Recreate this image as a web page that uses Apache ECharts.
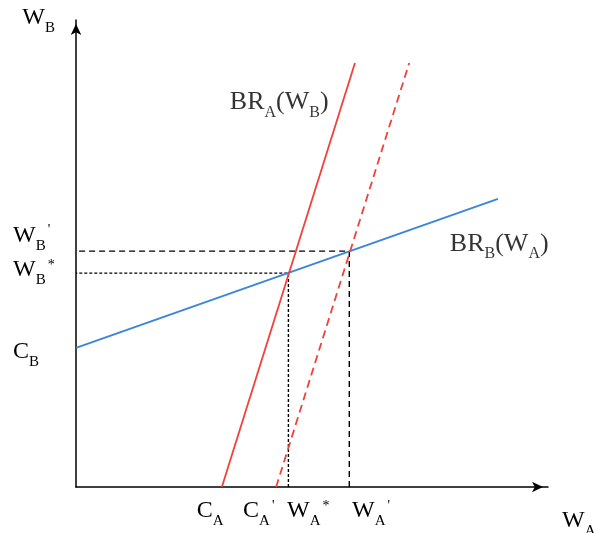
<!DOCTYPE html>
<html><head><meta charset="utf-8">
<script src="https://cdn.jsdelivr.net/npm/echarts@6/dist/echarts.min.js"></script>
<style>html,body{margin:0;padding:0;background:#fff}#c{width:594px;height:533px}</style>
</head><body><div id="c"></div>
<script>
// data units: 0..100 on each axis
const brB_line = [[0, 29.8], [89.4, 61.7]];     // BR_B(W_A) blue
const brA_line = [[30.9, 0], [59.1, 90.8]];     // BR_A(W_B) red solid
const brA_shift = [[42.4, 0], [70.6, 90.8]];    // shifted BR_A red dashed
const eqStar = [45.0, 45.8];                    // (W_A*, W_B*)
const eqPrime = [57.9, 50.5];                   // (W_A', W_B')
const xTickPos = [25.6, 35.4, 44.7, 58.5];
const xTickLabels = ["{m|C}{s|A}", "{m|C}{s|A}{p|'}", "{m|W}{s|A}{p|*}", "{m|W}{s|A}{p|'}"];
const yTickPos = [29.0, 46.5, 53.8];
const yTickLabels = ["{m|C}{s|B}", "{m|W}{s|B}{p|*}", "{m|W}{s|B}{p|'}"];
const curveLabels = ["{m|BR}{s|A}{m|(W}{s|B}{m|)}", "{m|BR}{s|B}{m|(W}{s|A}{m|)}"];
const curveLabelPos = [[32.6, 82.3], [79.2, 52.1]];
const axisNames = ["{m|W}{s|A}", "{m|W}{s|B}"];

const FONT = "'Liberation Serif','Times New Roman',serif";
const TXT = '#000';
function rich(size) {
  return {
    m: {fontFamily: FONT, fontSize: size, lineHeight: 18, color: TXT},
    s: {fontFamily: FONT, fontSize: Math.round(size * 0.62), lineHeight: 18, color: TXT, padding: [20, 0, 0, 0]},
    p: {fontFamily: FONT, fontSize: 14, lineHeight: 18, color: TXT, padding: [0, 1, 10, 2]}
  };
}
const chart = echarts.init(document.getElementById('c'), null, {renderer: 'canvas'});
const axisLine = (arrowOff) => ({
  show: true, symbol: ['none', 'arrow'], symbolSize: [8, 11], symbolOffset: [0, arrowOff],
  lineStyle: {color: '#000', width: 1.5}
});
const yLabel = (vals) => ({
  customValues: vals, align: 'left', margin: 63, hideOverlap: false, interval: 0,
  showMinLabel: true, showMaxLabel: true,
  formatter: v => yTickLabels[yTickPos.indexOf(v)] || '', rich: rich(24)
});
chart.setOption({
  animation: false,
  backgroundColor: '#fff',
  grid: {left: 76, right: 46, top: 20, bottom: 46, containLabel: false, outerBoundsMode: 'none'},
  xAxis: {
    type: 'value', min: 0, max: 100,
    axisLine: axisLine(-5), axisTick: {show: false}, splitLine: {show: false},
    axisLabel: {
      customValues: xTickPos, align: 'left', margin: 15, hideOverlap: false, interval: 0,
      showMinLabel: true, showMaxLabel: true,
      formatter: v => xTickLabels[xTickPos.indexOf(v)] || '', rich: rich(24)
    },
    name: axisNames[0], nameLocation: 'end', nameGap: 14,
    nameTextStyle: {align: 'left', verticalAlign: 'top', padding: [25, 0, 0, 0], rich: rich(24)}
  },
  yAxis: [{
    type: 'value', min: 0, max: 100, position: 'left',
    axisLine: axisLine(-4), axisTick: {show: false}, splitLine: {show: false},
    axisLabel: yLabel([yTickPos[0], yTickPos[2]]),
    name: axisNames[1], nameLocation: 'end', nameGap: 2,
    nameTextStyle: {align: 'right', verticalAlign: 'middle', padding: [0, 21, 0, 0], rich: rich(24)}
  }, {
    type: 'value', min: 0, max: 100, position: 'left', offset: 0,
    axisLine: {show: false}, axisTick: {show: false}, splitLine: {show: false},
    axisLabel: yLabel([yTickPos[1]])
  }],
  series: [
    {type: 'line', data: [[eqStar[0], 0], eqStar, [0, eqStar[1]]], symbol: 'none',
     lineStyle: {color: '#000', width: 1.4, type: [3, 2]}, z: 2},
    {type: 'line', data: [[eqPrime[0], 0], eqPrime, [0, eqPrime[1]]], symbol: 'none',
     lineStyle: {color: '#000', width: 1.4, type: [6, 4]}, z: 2},
    {type: 'line', data: brB_line, symbol: 'none', lineStyle: {color: '#3b86d8', width: 2}, z: 3},
    {type: 'line', data: brA_line, symbol: 'none', lineStyle: {color: '#f0413a', width: 1.8}, z: 4},
    {type: 'line', data: brA_shift, symbol: 'none', lineStyle: {color: '#f0413a', width: 1.8, type: [8, 5]}, z: 4},
    {type: 'scatter', data: curveLabelPos, symbolSize: 0, silent: true, z: 5,
     label: {show: true, position: 'right', distance: 0, align: 'left', verticalAlign: 'middle',
             formatter: p => curveLabels[p.dataIndex], rich: rich(26)}}
  ]
});
</script></body></html>
